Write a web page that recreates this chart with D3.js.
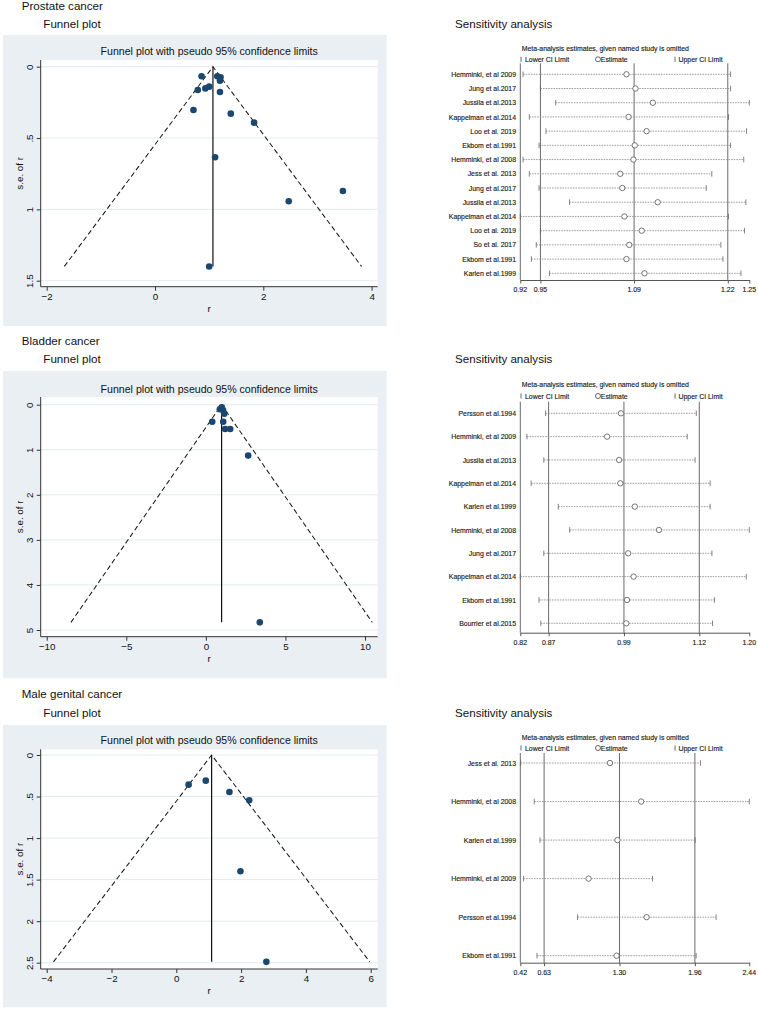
<!DOCTYPE html>
<html><head><meta charset="utf-8">
<script src="https://cdn.jsdelivr.net/npm/d3@7"></script>
<style>
body{margin:0;background:#fff}
svg{display:block}
text{font-family:"Liberation Sans",Arial,Helvetica,sans-serif;fill:#111}
</style>
</head><body>
<svg id="c" width="758" height="1010"></svg>
<script>
// ================= DATA =================
const sectionTitles = ["Prostate cancer", "Bladder cancer", "Male genital cancer"];
const funnelTitle = "Funnel plot with pseudo 95% confidence limits";

// --- Funnel plots: effect (r) and standard error (s.e. of r) ---
const prostateR  = [0.86, 1.15, 1.21, 1.20, 1.00, 0.93, 0.79, 1.20, 0.71, 1.40, 1.83, 1.11, 2.47, 3.47, 1.00];
const prostateSE = [0.067, 0.067, 0.075, 0.098, 0.140, 0.152, 0.163, 0.177, 0.303, 0.329, 0.392, 0.635, 0.943, 0.871, 1.40];
const prostatePooled = 1.07, prostateMaxSE = 1.40;
const prostateXTicks = [-2, 0, 2, 4];
const prostateYTicks = [0, 0.5, 1, 1.5];
const prostateYLabels = ["0", ".5", "1", "1.5"];

const bladderR  = [0.88, 1.00, 1.08, 1.16, 0.40, 1.09, 1.21, 1.53, 2.66, 3.39];
const bladderSE = [0.10, 0.06, 0.12, 0.20, 0.38, 0.38, 0.54, 0.54, 1.13, 4.83];
const bladderPooled = 0.99, bladderMaxSE = 4.83;
const bladderXTicks = [-10, -5, 0, 5, 10];
const bladderYTicks = [0, 1, 2, 3, 4, 5];
const bladderYLabels = ["0", "1", "2", "3", "4", "5"];

const genitalR  = [0.38, 0.91, 1.64, 2.25, 1.98, 2.78];
const genitalSE = [0.357, 0.309, 0.445, 0.545, 1.40, 2.49];
const genitalPooled = 1.09, genitalMaxSE = 2.49;
const genitalXTicks = [-4, -2, 0, 2, 4, 6];
const genitalYTicks = [0, 0.5, 1, 1.5, 2, 2.5];
const genitalYLabels = ["0", ".5", "1", "1.5", "2", "2.5"];

// --- Sensitivity analyses (estimate with named study omitted) ---
const prostateStudies = ["Hemminki, et al 2009", "Jung et al.2017", "Jussila et al.2013", "Kappelman et al.2014", "Loo et al. 2019", "Ekbom et al.1991", "Hemminki, et al 2008", "Jess et al. 2013", "Jung et al.2017", "Jussila et al.2013", "Kappelman et al.2014", "Loo et al. 2019", "So et al. 2017", "Ekbom et al.1991", "Karlen et al.1999"];
const prostateLower = [0.924, 0.949, 0.971, 0.933, 0.957, 0.947, 0.924, 0.933, 0.947, 0.991, 0.920, 0.949, 0.943, 0.936, 0.962];
const prostateEst   = [1.073, 1.086, 1.111, 1.076, 1.102, 1.085, 1.083, 1.064, 1.067, 1.118, 1.070, 1.095, 1.077, 1.073, 1.099];
const prostateUpper = [1.223, 1.223, 1.250, 1.220, 1.246, 1.223, 1.242, 1.196, 1.188, 1.245, 1.220, 1.243, 1.209, 1.212, 1.238];
const prostateSensTicks = [0.92, 0.949, 1.084, 1.219, 1.25];
const prostateSensLabels = ["0.92", "0.95", "1.09", "1.22", "1.25"];

const bladderStudies = ["Persson et al.1994", "Hemminki, et al 2009", "Jussila et al.2013", "Kappelman et al.2014", "Karlen et al.1999", "Hemminki, et al 2008", "Jung et al.2017", "Kappelman et al.2014", "Ekbom et al.1991", "Bourrier et al.2015"];
const bladderLower = [0.862, 0.831, 0.859, 0.838, 0.883, 0.902, 0.859, 0.820, 0.851, 0.854];
const bladderEst   = [0.987, 0.964, 0.984, 0.986, 1.010, 1.050, 0.999, 1.008, 0.997, 0.996];
const bladderUpper = [1.112, 1.097, 1.110, 1.135, 1.135, 1.200, 1.138, 1.195, 1.142, 1.139];
const bladderSensTicks = [0.82, 0.867, 0.992, 1.117, 1.20];
const bladderSensLabels = ["0.82", "0.87", "0.99", "1.12", "1.20"];

const genitalStudies = ["Jess et al. 2013", "Hemminki, et al 2008", "Karlen et al.1999", "Hemminki, et al 2009", "Persson et al.1994", "Ekbom et al.1991"];
const genitalLower = [0.423, 0.543, 0.594, 0.449, 0.925, 0.567];
const genitalEst   = [1.211, 1.486, 1.277, 1.022, 1.534, 1.269];
const genitalUpper = [2.010, 2.440, 1.962, 1.586, 2.147, 1.971];
const genitalSensTicks = [0.42, 0.63, 1.295, 1.96, 2.44];
const genitalSensLabels = ["0.42", "0.63", "1.30", "1.96", "2.44"];

const sensTitle = "Sensitivity analysis";
const sensHeader = "Meta-analysis estimates, given named study is omitted";
const legendLabels = ["Lower CI Limit", "Estimate", "Upper CI Limit"];

// ================= LAYOUT =================
const svg = d3.select("#c");
svg.append("rect").attr("width", 758).attr("height", 1010).attr("fill", "#fff");

const funnels = [
  {r: prostateR, se: prostateSE, pooled: prostatePooled, maxSE: prostateMaxSE, xt: prostateXTicks, yt: prostateYTicks, yl: prostateYLabels,
   secY: 6, subY: 24, bgTop: 35, bgBot: 326, titleY: 51.7, plotTop: 60, plotBot: 286.7, y0: 66.7, y1: 280.7, x0: 46.7, x1: 371.6},
  {r: bladderR, se: bladderSE, pooled: bladderPooled, maxSE: bladderMaxSE, xt: bladderXTicks, yt: bladderYTicks, yl: bladderYLabels,
   secY: 340.7, subY: 359, bgTop: 371, bgBot: 678.3, titleY: 389, plotTop: 397, plotBot: 636.7, y0: 404.7, y1: 630, x0: 46.7, x1: 365},
  {r: genitalR, se: genitalSE, pooled: genitalPooled, maxSE: genitalMaxSE, xt: genitalXTicks, yt: genitalYTicks, yl: genitalYLabels,
   secY: 694.3, subY: 713.3, bgTop: 725, bgBot: 1007.3, titleY: 740.7, plotTop: 749.3, plotBot: 969, y0: 755, y1: 962.7, x0: 46.7, x1: 370.7}
];

const sens = [
  {studies: prostateStudies, lo: prostateLower, est: prostateEst, hi: prostateUpper, ticks: prostateSensTicks, labels: prostateSensLabels,
   titleY: 24, metaY: 48.7, legY: 59.3, row0: 74.3, rowN: 273.3, axisY: 280, lineTop: 63.3},
  {studies: bladderStudies, lo: bladderLower, est: bladderEst, hi: bladderUpper, ticks: bladderSensTicks, labels: bladderSensLabels,
   titleY: 359.3, metaY: 384.3, legY: 396, row0: 413.3, rowN: 623.3, axisY: 632.7, lineTop: 401.7},
  {studies: genitalStudies, lo: genitalLower, est: genitalEst, hi: genitalUpper, ticks: genitalSensTicks, labels: genitalSensLabels,
   titleY: 712.7, metaY: 737.3, legY: 748, row0: 763, rowN: 955.7, axisY: 962.7, lineTop: 753}
];

const PL = 40.7, PR = 377.7;   // funnel plot region x
const BGL = 3, BGR = 386.7;    // funnel graph region x

funnels.forEach((f, i) => {
  const g = svg.append("g");
  g.append("text").attr("x", 21.7).attr("y", f.secY).attr("dy", "0.35em").style("font-size", "11.6px").text(sectionTitles[i]);
  g.append("text").attr("x", 43.3).attr("y", f.subY).attr("dy", "0.35em").style("font-size", "11.6px").text("Funnel plot");
  g.append("rect").attr("x", BGL).attr("y", f.bgTop).attr("width", BGR - BGL).attr("height", f.bgBot - f.bgTop).attr("fill", "#e9eff3");
  g.append("rect").attr("x", PL).attr("y", f.plotTop).attr("width", PR - PL).attr("height", f.plotBot - f.plotTop).attr("fill", "#fff");
  g.append("text").attr("x", (PL + PR) / 2).attr("y", f.titleY).attr("dy", "0.35em").attr("text-anchor", "middle")
    .style("font-size", "10.6px").text(funnelTitle);

  const x = d3.scaleLinear().domain([f.xt[0], f.xt[f.xt.length - 1]]).range([f.x0, f.x1]);
  const y = d3.scaleLinear().domain([f.yt[0], f.yt[f.yt.length - 1]]).range([f.y0, f.y1]);

  g.append("g").selectAll("line").data(f.yt).join("line")
    .attr("x1", PL).attr("x2", PR).attr("y1", d => y(d)).attr("y2", d => y(d))
    .attr("stroke", "#e3ebee").attr("stroke-width", 1);

  const lo = f.pooled - 1.96 * f.maxSE, hi = f.pooled + 1.96 * f.maxSE;
  const line = d3.line().x(d => x(d[0])).y(d => y(d[1]));
  g.append("path").attr("d", line([[lo, f.maxSE], [f.pooled, 0], [hi, f.maxSE]]))
    .attr("fill", "none").attr("stroke", "#1a1a1a").attr("stroke-width", 1.05).attr("stroke-dasharray", "5,3");
  g.append("path").attr("d", line([[f.pooled, 0], [f.pooled, f.maxSE]]))
    .attr("fill", "none").attr("stroke", "#111").attr("stroke-width", 1.2);

  g.append("g").selectAll("circle").data(f.r.map((r, k) => [r, f.se[k]])).join("circle")
    .attr("cx", d => x(d[0])).attr("cy", d => y(d[1])).attr("r", 3.3).attr("fill", "#1a476f");

  const xa = g.append("g").attr("transform", `translate(0,${f.plotBot})`)
    .call(d3.axisBottom(x).tickValues(f.xt).tickFormat(d3.format("d")).tickSize(4).tickSizeOuter(0));
  xa.select(".domain").attr("d", `M${PL},0H${PR}`);
  xa.selectAll("text").attr("y", 6.5).attr("dy", "0.71em").style("font-size", "9.8px").attr("fill", "#111");
  const ya = g.append("g").attr("transform", `translate(${PL},0)`)
    .call(d3.axisLeft(y).tickValues(f.yt).tickFormat((d, k) => f.yl[k]).tickSize(4).tickSizeOuter(0));
  ya.select(".domain").attr("d", `M0,${f.plotTop}V${f.plotBot}`);
  ya.selectAll("text").attr("x", null).attr("dy", "0.35em").attr("text-anchor", "middle")
    .attr("transform", "translate(-11.4,0) rotate(-90)").style("font-size", "9.8px").attr("fill", "#111");
  [xa, ya].forEach(a => { a.selectAll("line,path").attr("stroke", "#333"); a.attr("font-family", null).attr("font-size", null); });

  g.append("text").attr("x", (PL + PR) / 2).attr("y", f.plotBot + 22).attr("dy", "0.35em")
    .attr("text-anchor", "middle").style("font-size", "9.8px").text("r");
  g.append("text").attr("transform", `translate(20,${(f.plotTop + f.plotBot) / 2}) rotate(-90)`).attr("dy", "0.35em")
    .attr("text-anchor", "middle").style("font-size", "9.8px").text("s.e. of r");
});

// ----- sensitivity panels -----
const SX0 = 520.3, SX1 = 749.3;
const SQ = 0.92; // horizontal compression of the small condensed font
function small(g, x, y, str, anchor) {
  const t = g.append("text").attr("x", x).attr("y", y).attr("dy", "0.35em")
    .attr("text-anchor", anchor || "start").style("font-size", "7.5px")
    .style("fill", "#1a1a1a").style("stroke", "#1a1a1a").style("stroke-width", "0.15px").text(str);
  const w = t.node().getComputedTextLength();
  t.attr("textLength", w * SQ).attr("lengthAdjust", "spacingAndGlyphs");
}

sens.forEach((s, i) => {
  const g = svg.append("g");
  g.append("text").attr("x", 455).attr("y", s.titleY).attr("dy", "0.35em").style("font-size", "11.6px").text(sensTitle);
  small(g, 521.7, s.metaY, sensHeader);
  g.append("line").attr("x1", 521).attr("x2", 521).attr("y1", s.legY - 2.6).attr("y2", s.legY + 2.6).attr("stroke", "#444").attr("stroke-width", 0.8);
  small(g, 525, s.legY, legendLabels[0]);
  g.append("circle").attr("cx", 598).attr("cy", s.legY).attr("r", 2.5).attr("fill", "none").attr("stroke", "#444").attr("stroke-width", 0.8);
  small(g, 600.8, s.legY, legendLabels[1]);
  g.append("line").attr("x1", 675).attr("x2", 675).attr("y1", s.legY - 2.6).attr("y2", s.legY + 2.6).attr("stroke", "#444").attr("stroke-width", 0.8);
  small(g, 678.5, s.legY, legendLabels[2]);

  const x = d3.scaleLinear().domain([s.ticks[0], s.ticks[s.ticks.length - 1]]).range([SX0, SX1]);
  const y = d3.scalePoint().domain(d3.range(s.studies.length)).range([s.row0, s.rowN]);

  g.append("g").selectAll("line").data(s.ticks.slice(0, 4)).join("line")
    .attr("x1", d => x(d)).attr("x2", d => x(d)).attr("y1", s.lineTop).attr("y2", s.axisY)
    .attr("stroke", "#6a6a6a").attr("stroke-width", 1);

  const rows = g.append("g").selectAll("g").data(s.studies.map((n, k) => k)).join("g");
  rows.append("line").attr("x1", k => x(s.lo[k])).attr("x2", k => x(s.hi[k])).attr("y1", k => y(k)).attr("y2", k => y(k))
    .attr("stroke", "#888").attr("stroke-width", 0.8).attr("stroke-dasharray", "1.6,1");
  rows.append("line").attr("x1", k => x(s.lo[k])).attr("x2", k => x(s.lo[k])).attr("y1", k => y(k) - 2.8).attr("y2", k => y(k) + 2.8)
    .attr("stroke", "#666").attr("stroke-width", 0.8);
  rows.append("line").attr("x1", k => x(s.hi[k])).attr("x2", k => x(s.hi[k])).attr("y1", k => y(k) - 2.8).attr("y2", k => y(k) + 2.8)
    .attr("stroke", "#666").attr("stroke-width", 0.8);
  rows.append("circle").attr("cx", k => x(s.est[k])).attr("cy", k => y(k)).attr("r", 2.7)
    .attr("fill", "#fff").attr("stroke", "#555").attr("stroke-width", 0.8);
  s.studies.forEach((n, k) => small(g, 516, y(k), n, "end"));

  const xa = g.append("g").attr("transform", `translate(0,${s.axisY})`)
    .call(d3.axisBottom(x).tickValues(s.ticks).tickFormat((d, k) => s.labels[k]).tickSize(3.5).tickSizeOuter(0));
  xa.selectAll("line,path").attr("stroke", "#555");
  xa.selectAll("text").remove();
  s.ticks.forEach((t, k) => small(g, x(t), s.axisY + 9.6, s.labels[k], "middle"));
});
</script>
</body></html>
